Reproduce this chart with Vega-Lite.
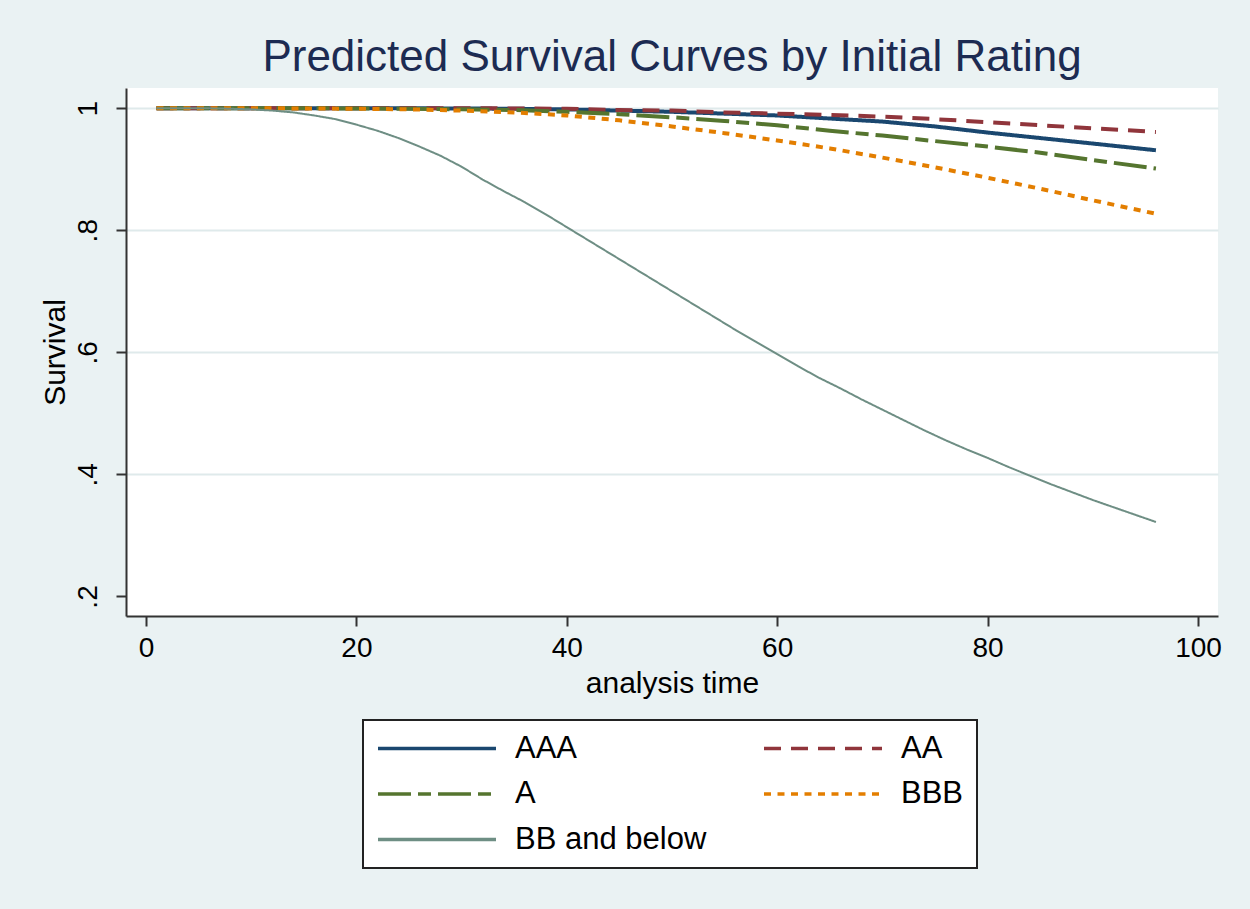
{
  "$schema": "https://vega.github.io/schema/vega-lite/v6.json",
  "width": 1092,
  "height": 528,
  "autosize": "none",
  "padding": {"left": 126, "top": 88, "right": 32, "bottom": 293},
  "background": "#eaf2f3",
  "view": {"fill": "white", "stroke": null},
  "title": {
    "text": "Predicted Survival Curves by Initial Rating",
    "fontSize": 44,
    "font": "Liberation Sans",
    "fontWeight": "normal",
    "color": "#1c2b52",
    "anchor": "middle",
    "offset": 8
  },
  "config": {
    "font": "Liberation Sans",
    "legend": {
      "strokeColor": "#222222",
      "fillColor": "white",
      "padding": 13,
      "columns": 2,
      "direction": "horizontal",
      "gridAlign": "each",
      "columnPadding": 55,
      "rowPadding": 13.5,
      "clipHeight": 31,
      "symbolType": "stroke",
      "symbolSize": 13924,
      "symbolStrokeWidth": 3.5,
      "labelFontSize": 31,
      "labelOffset": 17,
      "labelColor": "black",
      "labelLimit": 400
    }
  },
  "data": {
    "values": [
      {"t": 1, "rating": "AAA", "s": 1.0},
      {"t": 10, "rating": "AAA", "s": 1.0},
      {"t": 20, "rating": "AAA", "s": 1.0},
      {"t": 25, "rating": "AAA", "s": 0.9998},
      {"t": 30, "rating": "AAA", "s": 0.9995},
      {"t": 35, "rating": "AAA", "s": 0.999},
      {"t": 40, "rating": "AAA", "s": 0.998},
      {"t": 45, "rating": "AAA", "s": 0.996},
      {"t": 50, "rating": "AAA", "s": 0.994},
      {"t": 55, "rating": "AAA", "s": 0.991},
      {"t": 60, "rating": "AAA", "s": 0.988},
      {"t": 65, "rating": "AAA", "s": 0.983},
      {"t": 70, "rating": "AAA", "s": 0.978},
      {"t": 75, "rating": "AAA", "s": 0.970},
      {"t": 80, "rating": "AAA", "s": 0.960},
      {"t": 85, "rating": "AAA", "s": 0.951},
      {"t": 90, "rating": "AAA", "s": 0.942},
      {"t": 96, "rating": "AAA", "s": 0.931},
      {"t": 1, "rating": "AA", "s": 1.0},
      {"t": 10, "rating": "AA", "s": 1.0},
      {"t": 20, "rating": "AA", "s": 1.0},
      {"t": 30, "rating": "AA", "s": 1.0},
      {"t": 35, "rating": "AA", "s": 0.9995},
      {"t": 40, "rating": "AA", "s": 0.999},
      {"t": 45, "rating": "AA", "s": 0.997},
      {"t": 50, "rating": "AA", "s": 0.996},
      {"t": 55, "rating": "AA", "s": 0.993},
      {"t": 60, "rating": "AA", "s": 0.991},
      {"t": 65, "rating": "AA", "s": 0.989},
      {"t": 70, "rating": "AA", "s": 0.986},
      {"t": 75, "rating": "AA", "s": 0.982},
      {"t": 80, "rating": "AA", "s": 0.977},
      {"t": 85, "rating": "AA", "s": 0.972},
      {"t": 90, "rating": "AA", "s": 0.967},
      {"t": 96, "rating": "AA", "s": 0.961},
      {"t": 1, "rating": "A", "s": 1.0},
      {"t": 10, "rating": "A", "s": 1.0},
      {"t": 20, "rating": "A", "s": 0.9995},
      {"t": 25, "rating": "A", "s": 0.999},
      {"t": 30, "rating": "A", "s": 0.998},
      {"t": 35, "rating": "A", "s": 0.997},
      {"t": 40, "rating": "A", "s": 0.994},
      {"t": 45, "rating": "A", "s": 0.990},
      {"t": 50, "rating": "A", "s": 0.985},
      {"t": 55, "rating": "A", "s": 0.979},
      {"t": 60, "rating": "A", "s": 0.972},
      {"t": 65, "rating": "A", "s": 0.963},
      {"t": 70, "rating": "A", "s": 0.955},
      {"t": 75, "rating": "A", "s": 0.946},
      {"t": 80, "rating": "A", "s": 0.937},
      {"t": 85, "rating": "A", "s": 0.927},
      {"t": 90, "rating": "A", "s": 0.915},
      {"t": 96, "rating": "A", "s": 0.901},
      {"t": 1, "rating": "BBB", "s": 1.0},
      {"t": 10, "rating": "BBB", "s": 1.0},
      {"t": 15, "rating": "BBB", "s": 0.9995},
      {"t": 20, "rating": "BBB", "s": 0.999},
      {"t": 25, "rating": "BBB", "s": 0.998},
      {"t": 30, "rating": "BBB", "s": 0.996},
      {"t": 35, "rating": "BBB", "s": 0.993},
      {"t": 40, "rating": "BBB", "s": 0.988},
      {"t": 45, "rating": "BBB", "s": 0.980},
      {"t": 50, "rating": "BBB", "s": 0.970},
      {"t": 55, "rating": "BBB", "s": 0.959},
      {"t": 60, "rating": "BBB", "s": 0.947},
      {"t": 65, "rating": "BBB", "s": 0.934},
      {"t": 70, "rating": "BBB", "s": 0.919},
      {"t": 75, "rating": "BBB", "s": 0.903},
      {"t": 80, "rating": "BBB", "s": 0.886},
      {"t": 85, "rating": "BBB", "s": 0.868},
      {"t": 90, "rating": "BBB", "s": 0.849},
      {"t": 96, "rating": "BBB", "s": 0.827},
      {"t": 1, "rating": "BB and below", "s": 1.0},
      {"t": 4, "rating": "BB and below", "s": 1.0},
      {"t": 7, "rating": "BB and below", "s": 0.9995},
      {"t": 10, "rating": "BB and below", "s": 0.998},
      {"t": 12, "rating": "BB and below", "s": 0.996},
      {"t": 14, "rating": "BB and below", "s": 0.993},
      {"t": 16, "rating": "BB and below", "s": 0.988},
      {"t": 18, "rating": "BB and below", "s": 0.982},
      {"t": 20, "rating": "BB and below", "s": 0.973},
      {"t": 22, "rating": "BB and below", "s": 0.963},
      {"t": 24, "rating": "BB and below", "s": 0.951},
      {"t": 26, "rating": "BB and below", "s": 0.937},
      {"t": 28, "rating": "BB and below", "s": 0.922},
      {"t": 30, "rating": "BB and below", "s": 0.904},
      {"t": 32, "rating": "BB and below", "s": 0.883},
      {"t": 34, "rating": "BB and below", "s": 0.864},
      {"t": 36, "rating": "BB and below", "s": 0.846},
      {"t": 38, "rating": "BB and below", "s": 0.826},
      {"t": 40, "rating": "BB and below", "s": 0.805},
      {"t": 42, "rating": "BB and below", "s": 0.784},
      {"t": 44, "rating": "BB and below", "s": 0.763},
      {"t": 46, "rating": "BB and below", "s": 0.742},
      {"t": 48, "rating": "BB and below", "s": 0.721},
      {"t": 50, "rating": "BB and below", "s": 0.700},
      {"t": 52, "rating": "BB and below", "s": 0.679},
      {"t": 54, "rating": "BB and below", "s": 0.658},
      {"t": 56, "rating": "BB and below", "s": 0.637},
      {"t": 58, "rating": "BB and below", "s": 0.617},
      {"t": 60, "rating": "BB and below", "s": 0.597},
      {"t": 62, "rating": "BB and below", "s": 0.577},
      {"t": 64, "rating": "BB and below", "s": 0.558},
      {"t": 66, "rating": "BB and below", "s": 0.541},
      {"t": 68, "rating": "BB and below", "s": 0.523},
      {"t": 70, "rating": "BB and below", "s": 0.506},
      {"t": 72, "rating": "BB and below", "s": 0.489},
      {"t": 74, "rating": "BB and below", "s": 0.472},
      {"t": 76, "rating": "BB and below", "s": 0.456},
      {"t": 78, "rating": "BB and below", "s": 0.441},
      {"t": 80, "rating": "BB and below", "s": 0.427},
      {"t": 82, "rating": "BB and below", "s": 0.412},
      {"t": 84, "rating": "BB and below", "s": 0.398},
      {"t": 86, "rating": "BB and below", "s": 0.384},
      {"t": 88, "rating": "BB and below", "s": 0.371},
      {"t": 90, "rating": "BB and below", "s": 0.358},
      {"t": 92, "rating": "BB and below", "s": 0.346},
      {"t": 94, "rating": "BB and below", "s": 0.334},
      {"t": 96, "rating": "BB and below", "s": 0.322}
    ]
  },
  "mark": {"type": "line", "strokeCap": "butt", "strokeJoin": "round"},
  "encoding": {
    "x": {
      "field": "t",
      "type": "quantitative",
      "scale": {"domain": [-1.9, 101.9], "nice": false, "zero": false},
      "axis": {
        "title": "analysis time",
        "values": [0, 20, 40, 60, 80, 100],
        "grid": false,
        "domainColor": "#333333",
        "domainWidth": 2,
        "tickColor": "#333333",
        "tickWidth": 2,
        "tickSize": 10,
        "labelFontSize": 28,
        "labelColor": "black",
        "labelPadding": 8,
        "titleFontSize": 30,
        "titleFontWeight": "normal",
        "titleColor": "black",
        "titlePadding": 6
      }
    },
    "y": {
      "field": "s",
      "type": "quantitative",
      "scale": {"domain": [0.168, 1.033], "nice": false, "zero": false},
      "axis": {
        "title": "Survival",
        "values": [0.2, 0.4, 0.6, 0.8, 1],
        "labelExpr": "replace(format(datum.value, '~g'), '0.', '.')",
        "labelAngle": -90,
        "labelAlign": "center",
        "labelBaseline": "bottom",
        "grid": true,
        "gridColor": "#dfeaeb",
        "gridWidth": 2,
        "gridOpacity": {"condition": {"test": "datum.value < 0.3", "value": 0}, "value": 1},
        "domainColor": "#333333",
        "domainWidth": 2,
        "tickColor": "#333333",
        "tickWidth": 2,
        "tickSize": 10,
        "labelFontSize": 28,
        "labelColor": "black",
        "labelPadding": 14,
        "titleFontSize": 30,
        "titleFontWeight": "normal",
        "titleColor": "black",
        "titlePadding": 4
      }
    },
    "color": {
      "field": "rating",
      "type": "nominal",
      "scale": {
        "domain": ["AAA", "AA", "A", "BBB", "BB and below"],
        "range": ["#1a476f", "#90353b", "#55752f", "#e37e00", "#6e8e84"]
      },
      "legend": {
        "title": null,
        "orient": "none",
        "legendX": 237,
        "legendY": 632,
        "encode": {
          "legend": {"update": {"strokeWidth": {"value": 2}}}
        }
      }
    },
    "strokeDash": {
      "field": "rating",
      "type": "nominal",
      "scale": {
        "domain": ["AAA", "AA", "A", "BBB", "BB and below"],
        "range": [[1, 0], [17, 10], [33, 7, 13, 7], [7, 6.5], [1, 0]]
      }
    },
    "strokeWidth": {
      "condition": {"test": "datum.rating === 'BB and below'", "value": 2},
      "value": 4
    }
  }
}
